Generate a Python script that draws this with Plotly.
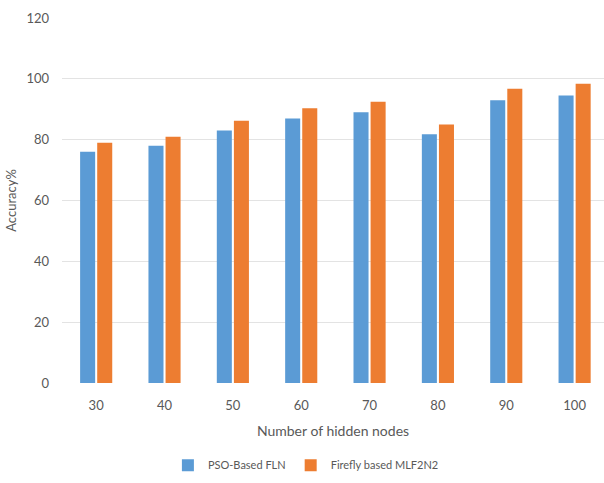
import plotly.graph_objects as go

# Accuracy (%) for each hidden-node count
hidden_nodes = ["30", "40", "50", "60", "70", "80", "90", "100"]
pso_fln = [76, 78, 83, 87, 89, 81.8, 93, 94.5]
firefly_mlf2n2 = [79, 81, 86.2, 90.3, 92.5, 85, 96.7, 98.4]

y_ticks = [0, 20, 40, 60, 80, 100, 120]

text_color = "#595959"
font_family = "Lato, 'Open Sans', sans-serif"

fig = go.Figure()
fig.add_trace(go.Bar(
    x=hidden_nodes, y=pso_fln, name="PSO-Based FLN",
    marker=dict(color="#5B9BD5", line=dict(width=0)),
))
fig.add_trace(go.Bar(
    x=hidden_nodes, y=firefly_mlf2n2, name="Firefly based MLF2N2",
    marker=dict(color="#ED7D31", line=dict(width=0)),
))

fig.update_layout(
    width=604, height=483,
    margin=dict(l=62, r=0, t=18, b=100),
    paper_bgcolor="white", plot_bgcolor="white",
    barmode="group", bargap=0.5, bargroupgap=0.12,
    font=dict(family=font_family, color=text_color, size=12),
    showlegend=True,
    legend=dict(
        orientation="h", x=0.45, xanchor="center",
        y=-0.225, yanchor="middle",
        font=dict(size=11, color=text_color),
        itemwidth=30, traceorder="normal",
    ),
    xaxis=dict(
        range=[-0.5, 7.43],
        showgrid=False, zeroline=False, showline=False,
        ticks="", ticklabelstandoff=13,
        tickfont=dict(size=13, color=text_color),
        title=dict(text="Number of hidden nodes", standoff=14,
                   font=dict(size=14, color=text_color)),
    ),
    yaxis=dict(
        range=[0, 120], tickvals=y_ticks,
        showgrid=True, gridcolor="#E3E3E3", gridwidth=1,
        zeroline=False, showline=False, ticks="",
        ticklabelstandoff=12,
        tickfont=dict(size=13, color=text_color),
        title=dict(text="Accuracy%", standoff=6,
                   font=dict(size=13, color=text_color)),
    ),
)

fig.write_html("out.html")
